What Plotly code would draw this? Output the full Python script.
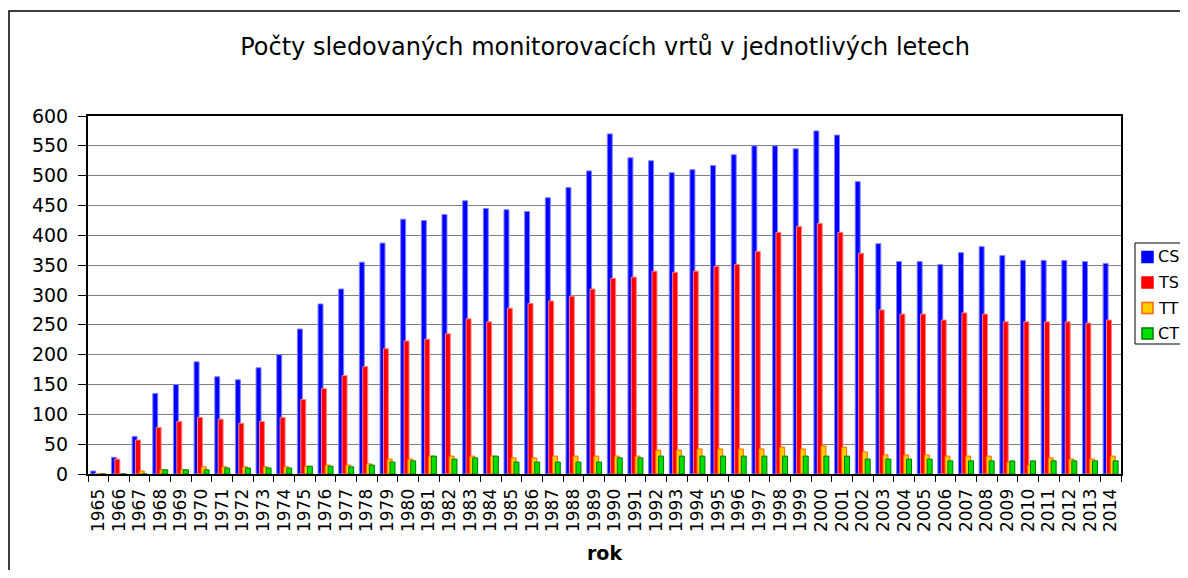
import plotly.graph_objects as go

# data
years = [str(y) for y in range(1965, 2015)]

cs = [5, 28, 63, 135, 150, 188, 163, 158, 178, 200,
      243, 285, 310, 355, 387, 427, 425, 435, 458, 445,
      443, 440, 463, 480, 508, 570, 530, 525, 505, 510,
      517, 535, 550, 550, 545, 575, 568, 490, 386, 356,
      356, 351, 371, 381, 366, 358, 358, 358, 356, 353]

ts = [0, 25, 57, 78, 88, 95, 92, 85, 88, 95,
      125, 143, 165, 180, 210, 223, 226, 235, 260, 255,
      278, 286, 290, 298, 310, 328, 330, 340, 338, 340,
      348, 351, 373, 405, 415, 420, 405, 370, 275, 268,
      268, 258, 270, 268, 255, 255, 255, 255, 253, 258]

tt = [0, 0, 5, 7, 7, 12, 12, 12, 12, 12,
      13, 15, 15, 17, 25, 25, 30, 30, 30, 30,
      27, 27, 30, 30, 30, 30, 30, 40, 40, 42,
      42, 42, 42, 45, 42, 47, 45, 37, 32, 32,
      32, 30, 30, 30, 20, 15, 27, 25, 25, 30]

ct = [0, 0, 0, 7, 7, 7, 10, 10, 10, 10,
      13, 13, 12, 15, 20, 22, 30, 25, 27, 30,
      20, 20, 20, 20, 20, 27, 27, 30, 30, 30,
      30, 30, 30, 30, 30, 30, 30, 25, 25, 25,
      25, 22, 22, 22, 22, 22, 22, 22, 22, 22]

# name, values, fill, outline, offset within category
series = [
    ('CS', cs, '#0000FF', '#7F7FFF', -0.365),
    ('TS', ts, '#FF0000', '#FF8080', -0.20),
    ('TT', tt, '#FFCC00', '#FF6600', -0.02),
    ('CT', ct, '#00E000', '#007A00', 0.12),
]

font = 'DejaVu Sans'

# page body has an 8px margin, so the figure is shrunk and shifted by that much
W, H = 1180, 562
L, R, T, B = 80, 67, 108, 96
pw, ph = W - L - R, H - T - B


def px(x):
    # figure pixel -> paper x
    return (x - L) / pw


def py(y):
    # figure pixel -> paper y
    return (H - B - y) / ph


fig = go.Figure()
for name, vals, fill, edge, off in series:
    fig.add_trace(go.Bar(x=years, y=vals, name=name, offset=off, width=0.24,
                         marker=dict(color=fill, line=dict(color=edge, width=1)),
                         showlegend=False))

fig.update_layout(
    width=W, height=H,
    margin=dict(l=L, r=R, t=T, b=B, autoexpand=False),
    paper_bgcolor='white', plot_bgcolor='white',
    barmode='overlay',
    font=dict(family=font, color='black'),
    title=dict(text='Počty sledovaných monitorovacích vrtů v jednotlivých letech',
               x=0.506, xanchor='center', y=1 - 39 / H, yanchor='middle',
               font=dict(family=font, size=24, color='black')),
    showlegend=False,
)

fig.update_xaxes(type='category', tickson='boundaries', ticks='outside',
                 ticklen=6, tickcolor='black', tickangle=-90,
                 tickfont=dict(family=font, size=17), ticklabelstandoff=6,
                 showline=True, linecolor='black', linewidth=2, mirror=True,
                 title=dict(text='<b>rok</b>', font=dict(family=font, size=19),
                            standoff=16))

fig.update_yaxes(range=[0, 600], dtick=50, ticks='outside', ticklen=8,
                 tickcolor='black', tickfont=dict(family=font, size=19),
                 ticklabelstandoff=6,
                 showgrid=True, gridcolor='#808080', gridwidth=1,
                 showline=True, linecolor='black', linewidth=2, mirror=True,
                 zeroline=False)

# outer chart border
fig.add_shape(type='rect', xref='paper', yref='paper',
              x0=px(1), x1=px(1200), y0=py(600), y1=py(3),
              line=dict(color='black', width=1.5), layer='below')

# legend box drawn by hand so it can run off the right edge like the original
fig.add_shape(type='rect', xref='paper', yref='paper',
              x0=px(1127), x1=px(1200), y0=py(336), y1=py(235),
              line=dict(color='black', width=1), fillcolor='white')
for i, (name, vals, fill, edge, off) in enumerate(series):
    cy = 249 + i * 25.5
    mark_edge = edge if name in ('TT', 'CT') else fill
    fig.add_shape(type='rect', xref='paper', yref='paper',
                  x0=px(1134), x1=px(1145), y0=py(cy + 5.5), y1=py(cy - 5.5),
                  line=dict(color=mark_edge, width=1.5), fillcolor=fill)
    fig.add_annotation(x=px(1148), y=py(cy), xref='paper', yref='paper',
                       text=name, showarrow=False, xanchor='left',
                       yanchor='middle', font=dict(family=font, size=16))

fig.write_html("out.html")
